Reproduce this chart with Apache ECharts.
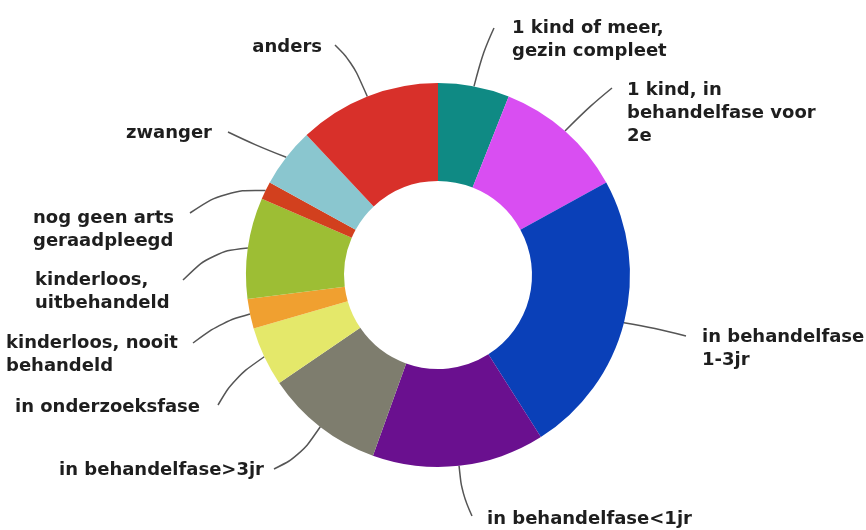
<!DOCTYPE html>
<html>
<head>
<meta charset="utf-8">
<script src="https://cdn.jsdelivr.net/npm/echarts@6/dist/echarts.min.js"></script>
<style>
html,body{margin:0;padding:0;background:#fff;}
#chart{width:866px;height:530px;}
</style>
</head>
<body>
<div id="chart"></div>
<script>
const categories = [
  '1 kind of meer,\ngezin compleet',
  '1 kind, in\nbehandelfase voor\n2e',
  'in behandelfase\n1-3jr',
  'in behandelfase<1jr',
  'in behandelfase>3jr',
  'in onderzoeksfase',
  'kinderloos, nooit\nbehandeld',
  'kinderloos,\nuitbehandeld',
  'nog geen arts\ngeraadpleegd',
  'zwanger',
  'anders'
];
const values = [6, 11, 24, 14.5, 10, 5, 2.5, 8.5, 1.5, 5, 12];
const colors = ['#0f8a84', '#d94ef2', '#0a40b8', '#6a108f', '#7e7d6e', '#e4e86a', '#f0a030', '#9dbe34', '#d2401e', '#8ac6cf', '#d8302a'];

// label placement (style only)
const labelPos = [
  {x: 512, y: 40,  align: 'left',  end: [494, 28],  mid: [483, 52]},
  {x: 627, y: 113, align: 'left',  end: [612, 88],  mid: [590, 106]},
  {x: 702, y: 349, align: 'left',  end: [686, 336], mid: [655, 328]},
  {x: 487, y: 519, align: 'left',  end: [472, 516], mid: [462, 494]},
  {x: 264, y: 470, align: 'right', end: [274, 469], mid: [300, 456]},
  {x: 15,  y: 407, align: 'left',  end: [218, 405], mid: [234, 378]},
  {x: 6,   y: 355, align: 'left',  end: [193, 343], mid: [222, 322]},
  {x: 35,  y: 292, align: 'left',  end: [183, 280], mid: [212, 252]},
  {x: 33,  y: 230, align: 'left',  end: [190, 213], mid: [225, 190]},
  {x: 212, y: 133, align: 'right', end: [228, 132], mid: [255, 145]},
  {x: 322, y: 47,  align: 'right', end: [335, 45],  mid: [352, 62]}
];

const chart = echarts.init(document.getElementById('chart'), null, {renderer: 'canvas'});
chart.setOption({
  animation: false,
  backgroundColor: '#ffffff',
  series: [{
    type: 'pie',
    center: [438, 275],
    radius: [94, 192],
    startAngle: 90,
    clockwise: true,
    avoidLabelOverlap: false,
    data: categories.map((c, i) => ({name: c, value: values[i], itemStyle: {color: colors[i]}})),
    label: {
      show: true,
      position: 'outside',
      formatter: '{b}',
      color: '#1e1e1e',
      fontFamily: 'DejaVu Sans',
      fontWeight: 'bold',
      fontSize: 18,
      lineHeight: 23
    },
    labelLine: {
      show: true,
      smooth: 0.4,
      lineStyle: {color: '#555', width: 1.5}
    },
    labelLayout: function (params) {
      const p = labelPos[params.dataIndex];
      const start = params.labelLinePoints ? params.labelLinePoints[0] : p.mid;
      return {
        x: p.x,
        y: p.y,
        align: p.align,
        verticalAlign: 'middle',
        labelLinePoints: [start, p.mid, p.end]
      };
    }
  }]
});
</script>
</body>
</html>
